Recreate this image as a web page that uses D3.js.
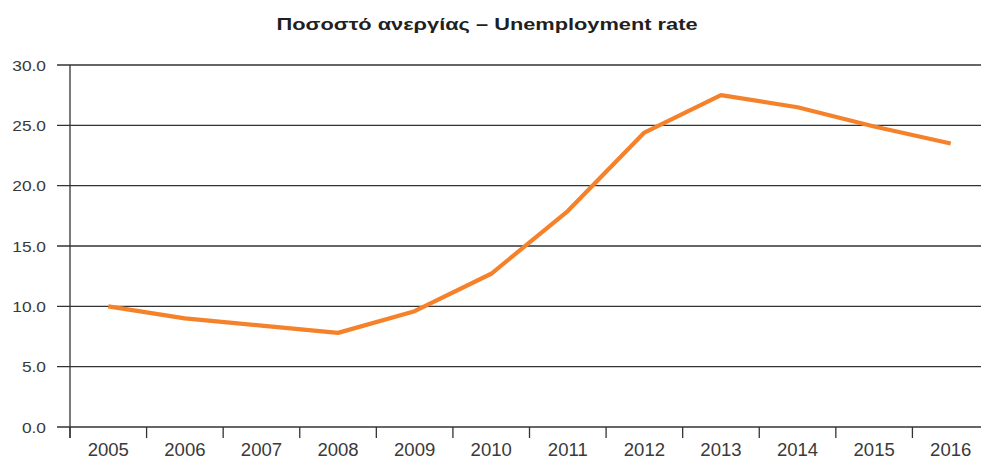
<!DOCTYPE html>
<html><head><meta charset="utf-8">
<script src="https://cdn.jsdelivr.net/npm/d3@7"></script>
<style>body{margin:0;background:#fff}svg{display:block}</style>
</head><body>
<svg id="c" width="981" height="460"></svg>
<script>
const years = ["2005","2006","2007","2008","2009","2010","2011","2012","2013","2014","2015","2016"];
const rates = [10.0, 9.0, 8.4, 7.8, 9.6, 12.7, 17.9, 24.4, 27.5, 26.5, 24.9, 23.5];
const yTicks = [0, 5, 10, 15, 20, 25, 30];
const title = "Ποσοστό ανεργίας – Unemployment rate";

const svg = d3.select("#c");
const font = "'Liberation Sans', Arial, sans-serif";
const x = d3.scaleBand().domain(years).range([70, 989]).padding(0);
const y = d3.scaleLinear().domain([0, 30]).range([427, 65]);

svg.append("text").attr("x", 487).attr("y", 29.5).attr("text-anchor", "middle")
  .attr("font-family", font).attr("font-weight", "bold").attr("font-size", 16)
  .attr("textLength", 421).attr("lengthAdjust", "spacingAndGlyphs")
  .attr("fill", "#231f20").text(title);

// grid lines
svg.append("g").selectAll("line").data(yTicks).join("line")
  .attr("x1", 57).attr("x2", 981).attr("y1", d => y(d)).attr("y2", d => y(d))
  .attr("stroke", "#333").attr("stroke-width", 1.3);

// y axis line
svg.append("line").attr("x1", 70).attr("x2", 70).attr("y1", y(30)).attr("y2", 438)
  .attr("stroke", "#333").attr("stroke-width", 1.3);

// y labels
svg.append("g").selectAll("text").data(yTicks).join("text")
  .attr("transform", d => `translate(46,${y(d)}) scale(1.12,1)`)
  .attr("dy", "0.36em").attr("text-anchor", "end")
  .attr("font-family", font).attr("font-size", 15.5).attr("fill", "#3a3a3a")
  .text(d => d.toFixed(1));

// x ticks at band boundaries
svg.append("g").selectAll("line").data(years).join("line")
  .attr("x1", d => x(d)).attr("x2", d => x(d)).attr("y1", 427).attr("y2", 438)
  .attr("stroke", "#333").attr("stroke-width", 1.3);

// x labels
svg.append("g").selectAll("text").data(years).join("text")
  .attr("transform", d => `translate(${x(d) + x.bandwidth() / 2},456) scale(1.06,1)`)
  .attr("text-anchor", "middle")
  .attr("font-family", font).attr("font-size", 17.5).attr("fill", "#3a3a3a")
  .text(d => d);

// line
const line = d3.line().x((d, i) => x(years[i]) + x.bandwidth() / 2).y(d => y(d));
svg.append("path").datum(rates).attr("d", line).attr("fill", "none")
  .attr("stroke", "#f5822a").attr("stroke-width", 4.2).attr("stroke-linejoin", "round");
</script>
</body></html>
